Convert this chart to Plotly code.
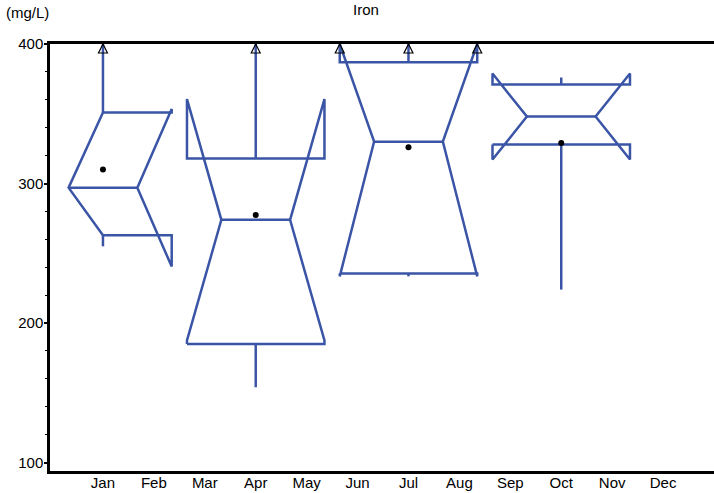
import plotly.graph_objects as go

# ---- data (mg/L) ----
month_labels = ["Jan", "Feb", "Mar", "Apr", "May", "Jun",
                "Jul", "Aug", "Sep", "Oct", "Nov", "Dec"]
box_month = [1, 4, 7, 10]                 # Jan, Apr, Jul, Oct
lower_whisker = [255.0, 154.0, 233.5, 224.0]
q1 = [263.0, 185.0, 235.5, 328.0]
median = [297.0, 274.0, 330.0, 348.0]
q3 = [351.0, 318.0, 387.0, 371.0]
upper_whisker = [430.0, 450.0, 420.0, 376.0]   # >400 are off-scale (arrows)
mean = [310.0, 277.5, 326.0, 329.0]
notch_halfspan = [56.5, 86.5, 96.5, 30.8]

# ---- styling ----
BLUE = "#3b55a6"
XMIN, XMAX = -0.04, 13.0
YMIN, YMAX = 94.0, 400.0
HALF_W = 1.35
FONT = "Liberation Sans, Arial, Helvetica, sans-serif"

fig = go.Figure()
arrow_x, arrow_y = [], []


def clip(v):
    return min(v, YMAX)


for xc, lo, a, m, b, hi, ns in zip(box_month, lower_whisker, q1, median, q3,
                                     upper_whisker, notch_halfspan):
    ln, un = m - ns, m + ns
    x0, x1 = xc - HALF_W, xc + HALF_W
    n0, n1 = xc - HALF_W / 2, xc + HALF_W / 2
    if x0 < XMIN:
        # left half folded onto the centre line (as in the source graphic)
        xs = [xc, n0, xc, x1, x1, n1, x1, x1, xc]
        ys = [a, m, b, b, clip(un), m, ln, a, a]
    else:
        xs = [x0, x0, n0, x0, x0, x1, x1, n1, x1, x1, x0]
        ys = [a, ln, m, clip(un), b, b, clip(un), m, ln, a, a]
        if un > YMAX:
            arrow_x += [x0, x1]
            arrow_y += [YMAX, YMAX]
    xs += [None, n0, n1, None, xc, xc, None, xc, xc]
    ys += [None, m, m, None, b, clip(hi), None, a, lo]
    if hi > YMAX:
        arrow_x.append(xc)
        arrow_y.append(YMAX)
    fig.add_trace(go.Scatter(x=xs, y=ys, mode="lines",
                             line=dict(color=BLUE, width=2.5),
                             hoverinfo="skip", showlegend=False))

fig.add_trace(go.Scatter(x=box_month, y=mean, mode="markers",
                         marker=dict(color="black", size=6),
                         showlegend=False))
fig.add_trace(go.Scatter(x=arrow_x, y=arrow_y, mode="markers",
                         marker=dict(symbol="arrow-up-open", size=9,
                                     color="black",
                                     line=dict(color="black", width=1.2)),
                         cliponaxis=False, showlegend=False))

fig.update_layout(
    width=714, height=493,
    margin=dict(l=50, r=0, t=44, b=22),
    paper_bgcolor="white", plot_bgcolor="white",
    font=dict(family=FONT, size=15, color="black"),
    showlegend=False,
    xaxis=dict(range=[XMIN, XMAX], tickvals=list(range(1, 13)),
               ticktext=month_labels, ticks="", showgrid=False,
               zeroline=False, showline=True, linecolor="black",
               linewidth=2.5, mirror=True, automargin=False,
               ticklabelstandoff=-4),
    yaxis=dict(range=[YMIN, YMAX], tickvals=[100, 200, 300, 400],
               ticks="outside", ticklen=3, tickwidth=1.5, tickcolor="black",
               minor=dict(dtick=20, ticks="outside", ticklen=2,
                          tickcolor="black", tickwidth=1),
               showgrid=False, zeroline=False, showline=True,
               linecolor="black", linewidth=2.5, mirror=False,
               automargin=False, ticklabelstandoff=-2),
    annotations=[
        dict(text="Iron", xref="paper", yref="paper",
             x=(366 - 50) / 664, y=1, yshift=45, showarrow=False,
             font=dict(size=15)),
        dict(text="(mg/L)", xref="paper", yref="paper", x=0, y=1,
             xanchor="left", xshift=-46, yshift=42, showarrow=False,
             font=dict(size=15)),
    ],
)

fig.write_html("out.html",
               config={"displayModeBar": False},
               post_script="document.body.style.margin='0';"
                           "document.body.style.overflow='hidden';")
